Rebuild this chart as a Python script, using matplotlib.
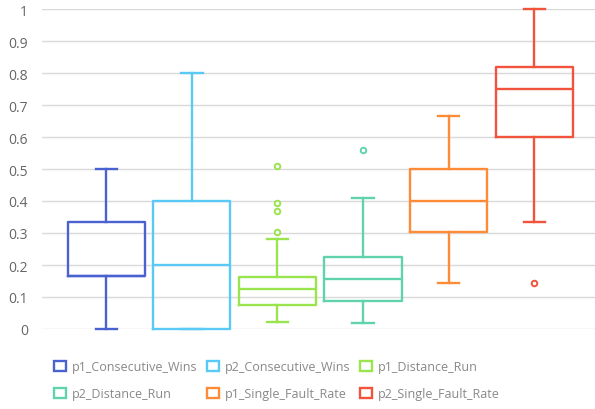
import matplotlib
matplotlib.use("Agg")
import matplotlib.pyplot as plt
from matplotlib.patches import Patch

plt.rcParams['font.family'] = ['Open Sans', 'DejaVu Sans']

# box statistics
names = ['p1_Consecutive_Wins', 'p2_Consecutive_Wins', 'p1_Distance_Run',
         'p2_Distance_Run', 'p1_Single_Fault_Rate', 'p2_Single_Fault_Rate']
whislo = [0.0, 0.0, 0.023, 0.02, 0.143, 0.333]
q1 = [0.167, 0.0, 0.076, 0.088, 0.303, 0.60]
med = [0.167, 0.2, 0.124, 0.155, 0.40, 0.75]
q3 = [0.333, 0.4, 0.162, 0.226, 0.50, 0.818]
whishi = [0.5, 0.8, 0.281, 0.409, 0.667, 1.0]
fliers = [[], [], [0.302, 0.369, 0.394, 0.509], [0.56], [], [0.143]]
colors = ['#4a62d0', '#5bc9f6', '#9ae44e', '#60d3ae', '#fd8b38', '#f2533c']
yticks = [0, 0.1, 0.2, 0.3, 0.4, 0.5, 0.6, 0.7, 0.8, 0.9, 1]

fig = plt.figure(figsize=(5.95, 4.10), dpi=100)
ax = fig.add_axes([42 / 595, 80 / 410, 1 - 42 / 595, 320 / 410])

for i, c in enumerate(colors):
    st = dict(whislo=whislo[i], q1=q1[i], med=med[i], q3=q3[i],
              whishi=whishi[i], fliers=fliers[i], label=names[i])
    ax.bxp([st], positions=[i], widths=0.9, showfliers=True, patch_artist=False,
           boxprops=dict(color=c, linewidth=1.7),
           medianprops=dict(color=c, linewidth=1.7),
           whiskerprops=dict(color=c, linewidth=1.7),
           capprops=dict(color=c, linewidth=1.7),
           capwidths=0.25,
           flierprops=dict(marker='o', markersize=4, markerfacecolor='white',
                           markeredgecolor=c, markeredgewidth=1.4))

for art in ax.lines:
    art.set_clip_on(False)

ax.set_xlim(-0.75, 5.71)
ax.set_ylim(0, 1)
ax.set_yticks(yticks)
ax.set_yticklabels([f'{v:g}' for v in yticks])
ax.set_xticks([])
ax.grid(axis='y', color='#d9d9d9', linewidth=1)
ax.set_axisbelow(True)
for s in ax.spines.values():
    s.set_visible(False)
ax.tick_params(axis='y', length=0, pad=10, labelsize=10, labelcolor='#666666')

handles = [Patch(facecolor='white', edgecolor=c, linewidth=1.7, label=n)
           for c, n in zip(colors, names)]
# legend fills column-wise, so reorder to read row-wise
order = [0, 3, 1, 4, 2, 5]
fig.legend(handles=[handles[k] for k in order], loc='upper left',
           bbox_to_anchor=(43 / 595, 1 - 350 / 410),
           ncol=3, frameon=False, fontsize=9, labelcolor='#888888',
           handlelength=0.9, handleheight=0.9, handletextpad=0.5,
           columnspacing=0.8, labelspacing=1.1)

fig.savefig('out.png', dpi=100)
